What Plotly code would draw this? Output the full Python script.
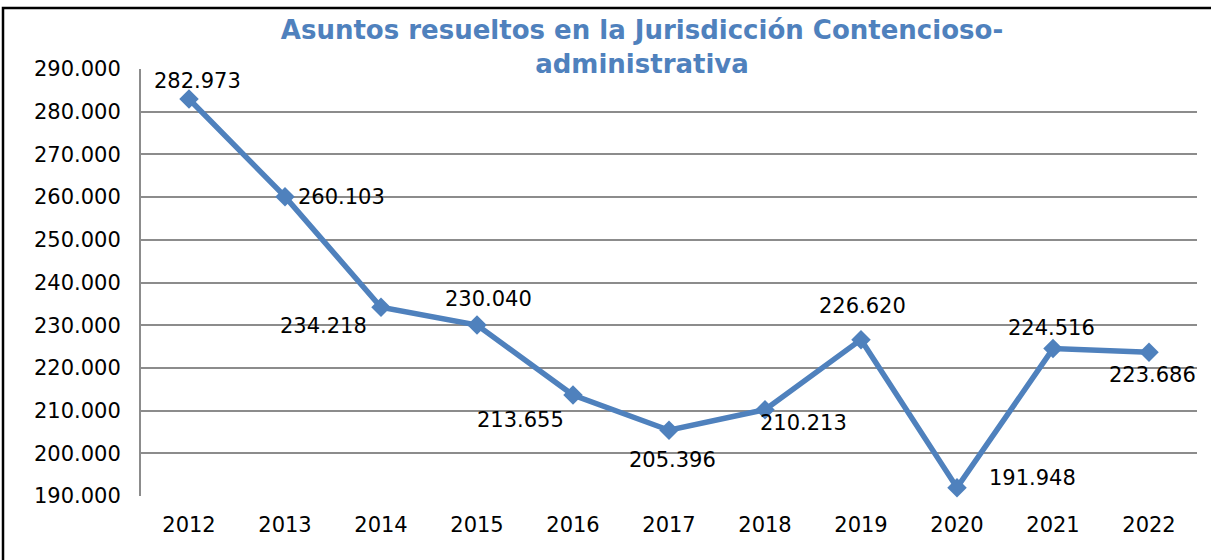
import plotly.graph_objects as go

years = ["2012", "2013", "2014", "2015", "2016", "2017", "2018", "2019", "2020", "2021", "2022"]
asuntos = [282973, 260103, 234218, 230040, 213655, 205396, 210213, 226620, 191948, 224516, 223686]
tick_vals = [190000, 200000, 210000, 220000, 230000, 240000, 250000, 260000, 270000, 280000, 290000]
title_text = "Asuntos resueltos en la Jurisdicción Contencioso-<br>administrativa"

# label offsets (pixels, from the marker centre) -- styling only
label_dx = [8, 56, -58, 11, -53, 3, 38, 1, 75, -2, 3]
label_dy = [18, 0, -19, 26, -25, -30, -13, 34, 10, 21, -23]

blue = "#4F81BD"
font = "DejaVu Sans, Verdana, sans-serif"

labels = [f"{v:,}".replace(",", ".") for v in asuntos]

fig = go.Figure()
fig.add_trace(go.Scatter(
    x=years, y=asuntos, mode="lines+markers",
    line=dict(color=blue, width=5.5),
    marker=dict(symbol="diamond", size=15, color=blue),
    cliponaxis=False, showlegend=False,
))

for i, (y, t, dx, dy) in enumerate(zip(asuntos, labels, label_dx, label_dy)):
    fig.add_annotation(x=i, y=y, xref="x", yref="y", text=t, showarrow=False,
                       xshift=dx, yshift=dy, xanchor="center", yanchor="middle",
                       font=dict(family=font, size=21, color="black"))

L, R, T, B = 141, 14, 69, 64
W, H = 1211, 560
pw, ph = W - L - R, H - T - B

fig.update_layout(
    width=W, height=H,
    margin=dict(l=L, r=R, t=T, b=B),
    paper_bgcolor="white", plot_bgcolor="white",
    separators=",.",
    title=dict(text=title_text, x=642 / W, xref="container", xanchor="center",
               y=0.93, yref="container", yanchor="top",
               font=dict(family=font, size=26, color=blue, weight="bold")),
    xaxis=dict(type="category", range=[-0.5, 10.5], showgrid=False,
               showline=False, ticks="", ticklabelstandoff=14,
               tickfont=dict(family=font, size=21, color="black")),
    yaxis=dict(range=[190000, 290000], tickvals=tick_vals, tickformat=",d",
               showgrid=True, gridcolor="#8c8c8c", gridwidth=2,
               showline=True, linecolor="#8c8c8c", linewidth=2,
               zeroline=False, ticks="", ticklabelstandoff=14,
               tickfont=dict(family=font, size=21, color="black")),
    shapes=[dict(type="rect", xref="paper", yref="paper",
                 x0=(3 - L) / pw, x1=(W + 10 - L) / pw,
                 y0=-(H + 10 - T - ph) / ph, y1=1 + (T - 8) / ph,
                 line=dict(color="black", width=2.5), fillcolor="rgba(0,0,0,0)",
                 layer="below")],
)
fig.write_html("out.html", config={"displayModeBar": False},
               post_script="document.body.style.margin='0';")
